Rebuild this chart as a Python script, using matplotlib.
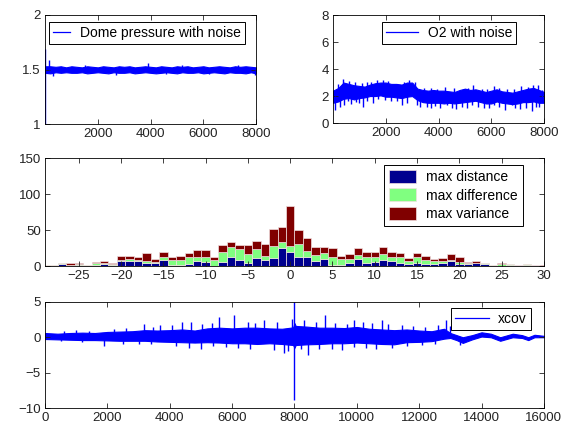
import numpy as np
import matplotlib
matplotlib.use('Agg')
import matplotlib.pyplot as plt
from matplotlib.lines import Line2D

plt.rcParams['font.family'] = ['Liberation Sans', 'DejaVu Sans']

# noisy traces are described by the core band (hi/lo, read every 200 samples)
# plus the visible spikes sticking out of it

# --- top left: dome pressure
grid8k = list(range(0, 8001, 200))
dome_hi = [1.53, 1.53, 1.525, 1.53, 1.52, 1.53, 1.525, 1.52, 1.53, 1.525, 1.52,
           1.53, 1.525, 1.52, 1.53, 1.525, 1.53, 1.52, 1.525, 1.53, 1.525, 1.52,
           1.53, 1.525, 1.52, 1.53, 1.525, 1.53, 1.52, 1.525, 1.53, 1.52, 1.525,
           1.53, 1.525, 1.52, 1.53, 1.525, 1.53, 1.525, 1.52]
dome_lo = [1.47, 1.465, 1.475, 1.47, 1.475, 1.47, 1.47, 1.475, 1.465, 1.47, 1.475,
           1.47, 1.465, 1.475, 1.47, 1.47, 1.475, 1.465, 1.47, 1.475, 1.47, 1.465,
           1.47, 1.475, 1.47, 1.465, 1.475, 1.47, 1.47, 1.475, 1.465, 1.47, 1.475,
           1.47, 1.465, 1.475, 1.47, 1.47, 1.465, 1.475, 1.465]
dome_spike_x = [1, 1, 150, 300, 1500, 2700, 3900, 4600, 5200, 6200, 7300, 7950]
dome_spike_y = [1.0, 1.69, 1.59, 1.44, 1.545, 1.45, 1.56, 1.455, 1.545, 1.455,
                1.545, 1.45]

# --- top right: O2
o2_hi = [2.4, 2.6, 3.0, 2.9, 2.8, 2.75, 2.7, 2.85, 2.95, 3.0, 3.0, 2.9, 2.9, 2.85,
         3.0, 3.0, 2.55, 2.45, 2.4, 2.45, 2.4, 2.4, 2.35, 2.3, 2.45, 2.55, 2.45,
         2.5, 2.4, 2.3, 2.4, 2.5, 2.35, 2.3, 2.25, 2.35, 2.45, 2.55, 2.6, 2.45, 2.3]
o2_lo = [1.5, 1.6, 1.8, 1.85, 1.75, 1.85, 1.9, 2.0, 2.0, 2.05, 1.95, 1.95, 1.9,
         1.85, 1.95, 2.0, 1.7, 1.55, 1.5, 1.5, 1.5, 1.45, 1.5, 1.45, 1.5, 1.55,
         1.6, 1.65, 1.55, 1.45, 1.45, 1.6, 1.5, 1.45, 1.4, 1.45, 1.55, 1.55, 1.6,
         1.5, 1.5]
o2_spike_x = [76, 418, 582, 873, 1152, 1506, 1722, 1975, 2418, 2608, 3177, 3557,
              3873, 4063, 4316, 4671, 5076, 5266, 5709, 6089, 6532, 6785, 7101,
              7544, 7797, 250, 700, 1000, 1300, 2200, 2800, 3300, 3700, 4500,
              4900, 5500, 5900, 6300, 6900, 7300, 7700,
              392, 835, 1278, 1658, 1911, 2430, 2861, 3430, 3937, 4253, 4949,
              5304, 5646, 6100, 6595, 7110, 7560, 7924, 200, 600, 1100, 1450,
              2100, 2700, 3100, 3700, 4600, 5100, 5850, 6300, 6850, 7400, 7750]
o2_spike_y = [0.94, 1.36, 1.61, 1.56, 1.19, 1.51, 1.81, 1.73, 1.61, 1.36, 1.31,
              1.19, 1.26, 1.11, 1.36, 1.01, 1.11, 1.31, 1.11, 1.36, 0.94, 1.31,
              1.06, 0.89, 1.19, 1.2, 1.4, 1.5, 1.6, 1.6, 1.5, 1.2, 1.1, 1.1, 1.2,
              1.2, 1.1, 1.2, 1.1, 1.1, 1.2,
              3.24, 3.04, 3.04, 3.16, 3.16, 2.92, 3.16, 2.59, 2.55, 2.67, 2.55,
              2.79, 2.55, 2.74, 2.55, 2.74, 2.84, 2.42, 2.9, 3.1, 3.0, 3.05,
              3.1, 3.05, 3.05, 2.6, 2.6, 2.6, 2.55, 2.6, 2.5, 2.7, 2.8]

# --- middle: stacked histogram
lags = list(range(-29, 31))
max_distance = [0.5, 0.5, 3, 0, 2, 0.5, 2, 3, 1, 7, 7, 7, 3.5, 4.5, 8, 2, 2, 3,
                6.5, 6, 0, 6, 13, 8, 4.6, 11.5, 9, 11.5, 25.5, 19, 12.5, 12.5,
                6.5, 10, 2, 2, 4.6, 10, 4.6, 5.5, 8, 7, 4, 3, 3.5, 3, 3, 4,
                7.5, 3, 2.5, 3.5, 3, 0.5, 0, 2, 1, 1.5, 1, 0]
max_difference = [0.5, 0.5, 0.5, 2, 0.5, 0.5, 2.5, 1.5, 2, 1, 3, 1, 4, 1, 4.5,
                  6, 6, 9, 6.5, 7, 8, 14, 13.5, 16, 12.5, 12.5, 4.6, 16.7, 8, 9,
                  17.5, 8, 9, 7.5, 10.5, 8, 5, 5.5, 8, 7, 9, 5.5, 8, 4, 9, 5.5,
                  4, 2.5, 1.5, 3, 2, 1, 0.5, 0.5, 3, 0.5, 0, 1, 0, 0]
max_variance = [1, 1, 0.5, 2, 1.5, 0.5, 1.5, 2, 1, 6, 4, 4, 10, 4.5, 7.5, 4.5,
                6, 6, 9, 9, 4.5, 9, 7, 5, 11.6, 11, 17, 23, 21, 56, 19.5, 18,
                11.5, 9.5, 13, 4, 7.5, 10, 6.5, 6.5, 9, 6.5, 6.5, 4.5, 5, 5.5,
                3, 5, 7, 7, 1.5, 2, 0.7, 0.5, 1.5, 0.5, 1, 0.5, 0.5, 1]

# --- bottom: xcov
xc_x = [0, 400, 800, 1200, 1600, 2000, 2400, 2800, 3200, 3600, 4000, 4400, 4800,
        5200, 5600, 6000, 6400, 6800, 7200, 7600, 7960, 8000, 8040, 8400, 8800,
        9200, 9600, 10000, 10400, 10800, 11200, 11600, 12000, 12400, 12800,
        13000, 13200, 13400, 13700, 14000, 14300, 14600, 15000, 15300, 15500,
        15700, 16000]
xc_hi = [0.6, 0.5, 0.6, 0.65, 0.6, 0.75, 0.8, 0.85, 1.0, 0.95, 1.0, 1.1, 0.95,
         1.25, 1.35, 1.25, 1.35, 1.35, 1.25, 1.2, 1.4, 2.0, 1.6, 1.5, 1.35, 1.35,
         1.3, 1.45, 1.2, 1.1, 1.0, 1.1, 0.95, 0.85, 1.2, 0.6, 0.3, 0.0, 0.3,
         0.7, 0.5, 0.0, 0.5, 0.3, 0.0, 0.35, 0.2]
xc_lo = [-0.25, -0.3, -0.35, -0.4, -0.4, -0.45, -0.5, -0.5, -0.5, -0.6, -0.65,
         -0.7, -0.75, -0.7, -0.75, -0.85, -0.85, -0.95, -0.85, -0.95, -1.1, -1.5,
         -1.1, -1.0, -0.95, -0.85, -0.85, -0.75, -0.85, -0.95, -1.0, -0.7, -0.65,
         -0.55, -0.2, -0.1, -0.4, -0.8, -0.3, 0.1, 0.0, -0.5, 0.0, -0.1,
         -0.4, 0.0, 0.0]
xc_spike_x = [3170, 3700, 4400, 5577, 6058, 6500, 7020, 7930, 8000, 8990, 9900,
              10800, 11450, 12870, 600, 1000, 1400, 2200, 2600, 3450, 4080,
              4670, 5050, 5350, 6750, 7450, 8300, 8700, 9300, 9700, 10200,
              10500, 11000, 11800, 12200, 12600, 13000,
              1890, 4615, 5000, 7660, 7800, 8000, 8450, 9520, 11130, 500, 1200,
              2500, 3000, 3400, 4200, 5400, 5800, 6200, 6590, 7340, 8200, 8800,
              9200, 9900, 10300, 10600, 11600, 12100, 12500, 13300]
xc_spike_y = [1.9, 1.7, 2.1, 2.8, 3.2, 2.2, 2.45, 2.6, 5.0, 3.2, 2.4, 2.45, 1.75,
              2.45, 0.9, 1.0, 0.95, 1.1, 1.3, 1.5, 1.8, 2.2, 1.9, 2.0, 2.0, 2.2,
              2.4, 2.2, 2.0, 1.9, 2.1, 2.0, 1.9, 1.6, 1.5, 1.8, 1.6,
              -1.3, -1.55, -1.6, -2.25, -2.0, -8.9, -2.5, -1.8, -1.55, -0.6,
              -0.65, -0.9, -0.9, -1.0, -1.2, -1.3, -1.4, -1.5, -1.7, -1.8, -1.6,
              -1.7, -1.6, -1.4, -1.5, -1.6, -1.2, -1.1, -1.0, -1.1]

BLUE = '#0000ff'
FS = 9.5


def noisy(ax, x, hi, lo, sx, sy, label):
    x = np.asarray(x, float)
    ax.fill_between(x, lo, hi, color=BLUE, lw=0.8)
    mid = np.interp(sx, x, (np.asarray(hi) + np.asarray(lo)) / 2)
    ax.vlines(sx, mid, sy, color=BLUE, lw=1.0)
    return Line2D([], [], color=BLUE, lw=0.9, label=label)


def style(ax):
    ax.tick_params(direction='in', top=True, right=True, length=3.5, width=0.6,
                   labelsize=FS, pad=3, colors='#222222')
    for s in ax.spines.values():
        s.set_linewidth(0.6)


def legend(ax, handles, anchor, hl):
    lg = ax.legend(handles=handles, loc='upper left', bbox_to_anchor=anchor,
                   borderaxespad=0, fancybox=False, framealpha=1,
                   edgecolor='black', fontsize=10, borderpad=0.3,
                   handlelength=hl, handletextpad=0.7)
    lg.get_frame().set_linewidth(0.7)
    return lg


fig = plt.figure(figsize=(5.63, 4.28), dpi=100)

ax1 = fig.add_axes([0.080, 0.710, 0.375, 0.255])
h = noisy(ax1, grid8k, dome_hi, dome_lo, dome_spike_x, dome_spike_y,
          'Dome pressure with noise')
ax1.set_xlim(1, 8000)
ax1.set_ylim(1, 2)
ax1.set_xticks([2000, 4000, 6000, 8000])
ax1.set_yticks([1, 1.5, 2])
ax1.set_yticklabels(['1', '1.5', '2'])
style(ax1)
legend(ax1, [h], (0.019, 0.936), 1.2)

ax2 = fig.add_axes([0.5915, 0.7126, 0.375, 0.252])
h = noisy(ax2, grid8k, o2_hi, o2_lo, o2_spike_x, o2_spike_y, 'O2 with noise')
ax2.set_xlim(1, 8000)
ax2.set_ylim(0, 8)
ax2.set_xticks([2000, 4000, 6000, 8000])
ax2.set_yticks([0, 2, 4, 6, 8])
style(ax2)
legend(ax2, [h], (0.232, 0.935), 2.3)

ax3 = fig.add_axes([0.080, 0.3785, 0.886, 0.252])
bottom = np.zeros(len(lags))
for vals, col, lab in [(max_distance, '#00008f', 'max distance'),
                       (max_difference, '#80ff80', 'max difference'),
                       (max_variance, '#800000', 'max variance')]:
    ax3.bar(lags, vals, width=1.0, bottom=bottom, color=col, label=lab,
            edgecolor='#f0e0e0', linewidth=0.5)
    bottom += np.asarray(vals)
ax3.set_xlim(-29, 30)
ax3.set_ylim(0, 150)
ax3.set_xticks(range(-25, 31, 5))
ax3.set_yticks([0, 50, 100, 150])
style(ax3)
lg = ax3.legend(loc='upper left', bbox_to_anchor=(0.679, 0.935), borderaxespad=0,
                fancybox=False, framealpha=1, edgecolor='black', fontsize=10,
                borderpad=0.35, handlelength=1.95, handleheight=1.05,
                labelspacing=0.3, handletextpad=0.75)
lg.get_frame().set_linewidth(0.7)

ax4 = fig.add_axes([0.080, 0.0467, 0.886, 0.248])
h = noisy(ax4, xc_x, xc_hi, xc_lo, xc_spike_x, xc_spike_y, 'xcov')
ax4.set_xlim(0, 16000)
ax4.set_ylim(-10, 5)
ax4.set_xticks(range(0, 16001, 2000))
ax4.set_yticks([-10, -5, 0, 5])
style(ax4)
legend(ax4, [h], (0.814, 0.943), 2.4)

fig.savefig('out.png', dpi=100)
